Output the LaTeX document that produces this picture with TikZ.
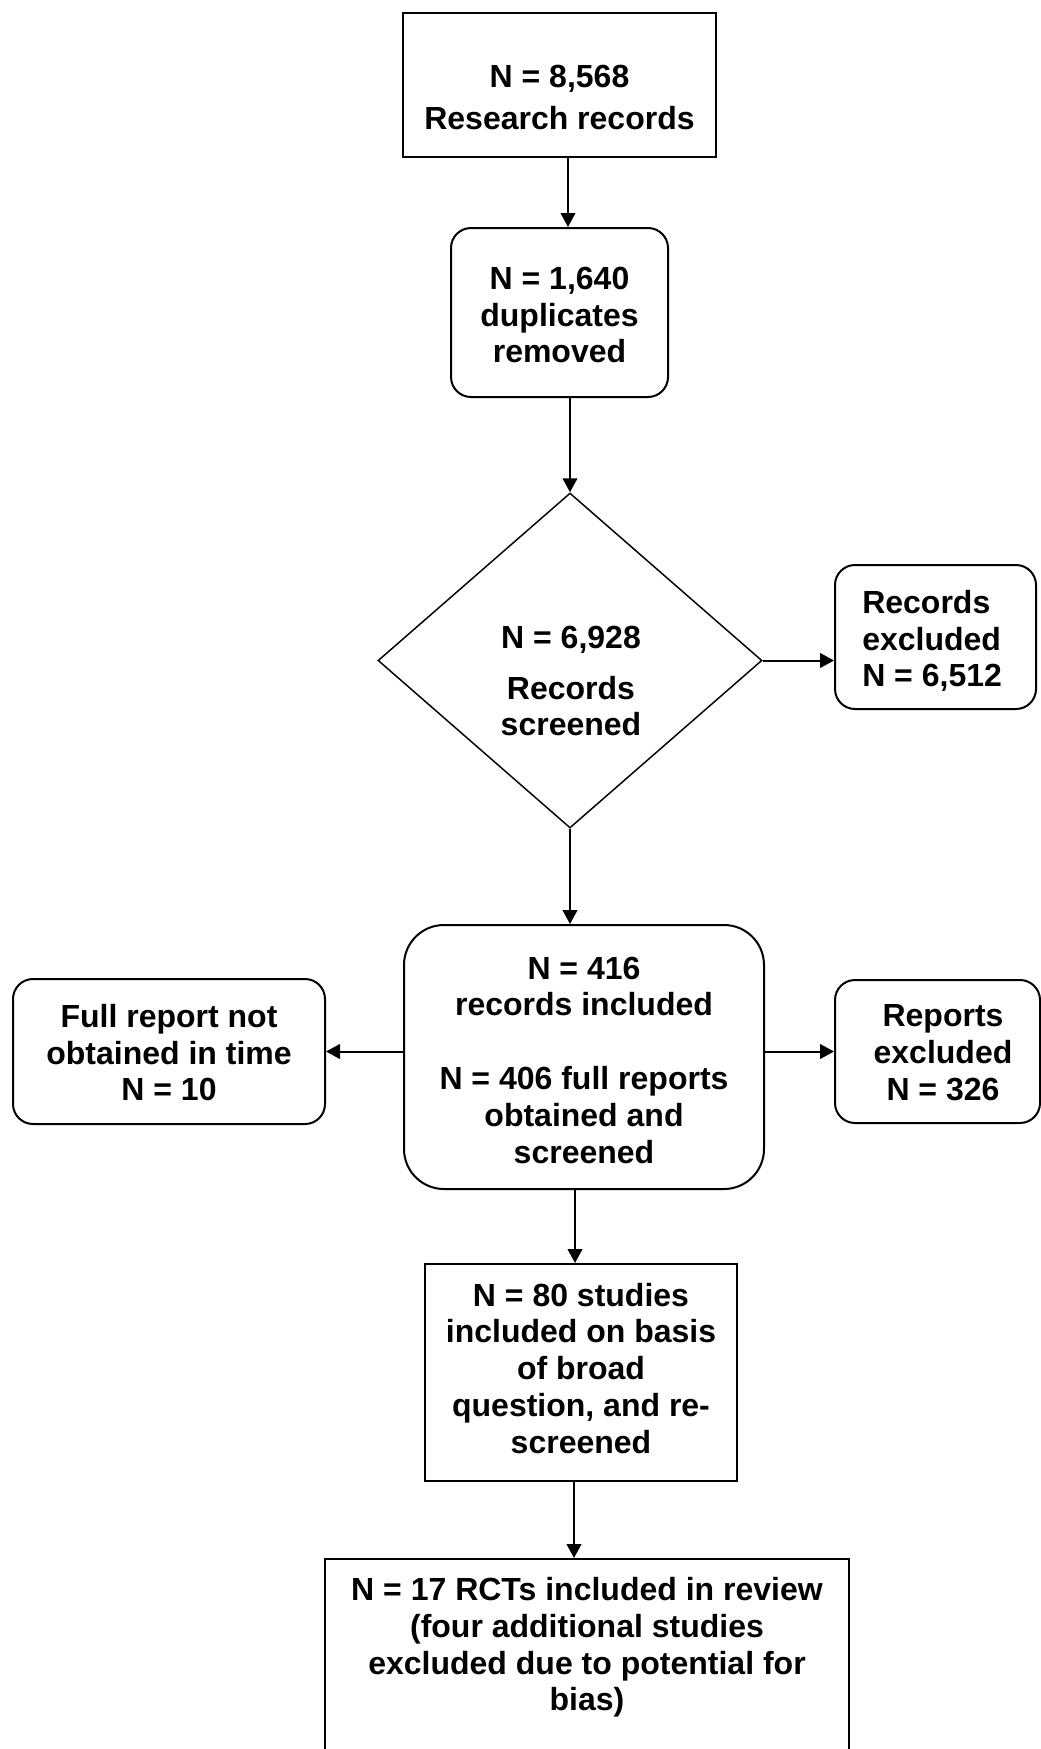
\documentclass[tikz,border=0pt]{standalone}
\usepackage{fontspec}
\setmainfont{Liberation Sans}
\usetikzlibrary{shapes.geometric,arrows.meta}
\begin{document}
\begin{tikzpicture}[x=0.75pt,y=-0.75pt,
  sbox/.style={draw=black, line width=1.5pt, inner sep=0pt},
  rbox/.style={draw=black, line width=1.5pt, inner sep=0pt, rounded corners=#1},
  rbox/.default=15pt,
  txt/.style={font=\fontsize{24}{27.6}\selectfont\bfseries, align=center, inner sep=0pt, text depth=0pt},
  arr/.style={line width=1.5pt, -{Triangle[length=10.5pt,width=11pt]}}]
\useasboundingbox (0,0) rectangle (1041,1749);
\clip (0,0) rectangle (1041,1749);
% shapes
\node[sbox, minimum width=234.75pt, minimum height=108pt] (b1) at (559.5,85) {};
\node[rbox, minimum width=162.75pt, minimum height=126.75pt] (b2) at (559.5,312.5) {};
\node[diamond, draw=black, line width=1.1pt, inner sep=0pt, minimum width=288pt, minimum height=251.25pt] (dia) at (570,660.5) {};
\node[rbox, minimum width=150.75pt, minimum height=108pt] (ex) at (935.5,637) {};
\node[rbox=30pt, minimum width=270pt, minimum height=198pt] (mid) at (584,1057) {};
\node[rbox, minimum width=234pt, minimum height=108.75pt] (lb) at (169,1051.5) {};
\node[rbox, minimum width=153.75pt, minimum height=107.25pt] (rb) at (937.5,1051.5) {};
\node[sbox, minimum width=234pt, minimum height=162.75pt] (b80) at (581,1372.5) {};
\node[sbox, minimum width=393pt, minimum height=180.75pt] (b17) at (587,1679.5) {};
% texts
\node[txt] (t1) at (559.5,97.5) {N = 8,568\\[4pt]Research records};
\node[txt] (t2) at (559.5,315) {N = 1,640\\duplicates\\removed};
\node[txt] (t3) at (571,681) {N = 6,928\\[10.5pt]Records\\screened};
\node[txt, align=left, anchor=west] (t4) at (862,638.5) {Records\\excluded\\N = 6,512};
\node[txt] (t5) at (584,1060) {N = 416\\records included\\[27.6pt]N = 406 full reports\\obtained and\\screened};
\node[txt] (t6) at (169,1052.5) {Full report not\\obtained in time\\N = 10};
\node[txt] (t7) at (943,1052.5) {Reports\\excluded\\N = 326};
\node[txt] (t8) at (581,1368) {N = 80 studies\\included on basis\\of broad\\question, and re-\\screened};
\node[txt] (t9) at (587,1644) {N = 17 RCTs included in review\\(four additional studies\\excluded due to potential for\\bias)};
% arrow x positions
\coordinate (x1) at (568,0);
\coordinate (x2) at (570,0);
\coordinate (x3) at (575,0);
\coordinate (x4) at (574,0);
% connectors
\draw[arr] (b1.south -| x1) -- (b2.north -| x1);
\draw[arr] (b2.south -| x2) -- (dia.north);
\draw[arr] (dia.east) -- (ex.west |- dia.east);
\draw[arr] (dia.south) -- (mid.north -| x2);
\draw[arr] (mid.west |- lb.east) -- (lb.east);
\draw[arr] (mid.east |- rb.west) -- (rb.west);
\draw[arr] (mid.south -| x3) -- (b80.north -| x3);
\draw[arr] (b80.south -| x4) -- (b17.north -| x4);
\end{tikzpicture}
\end{document}
